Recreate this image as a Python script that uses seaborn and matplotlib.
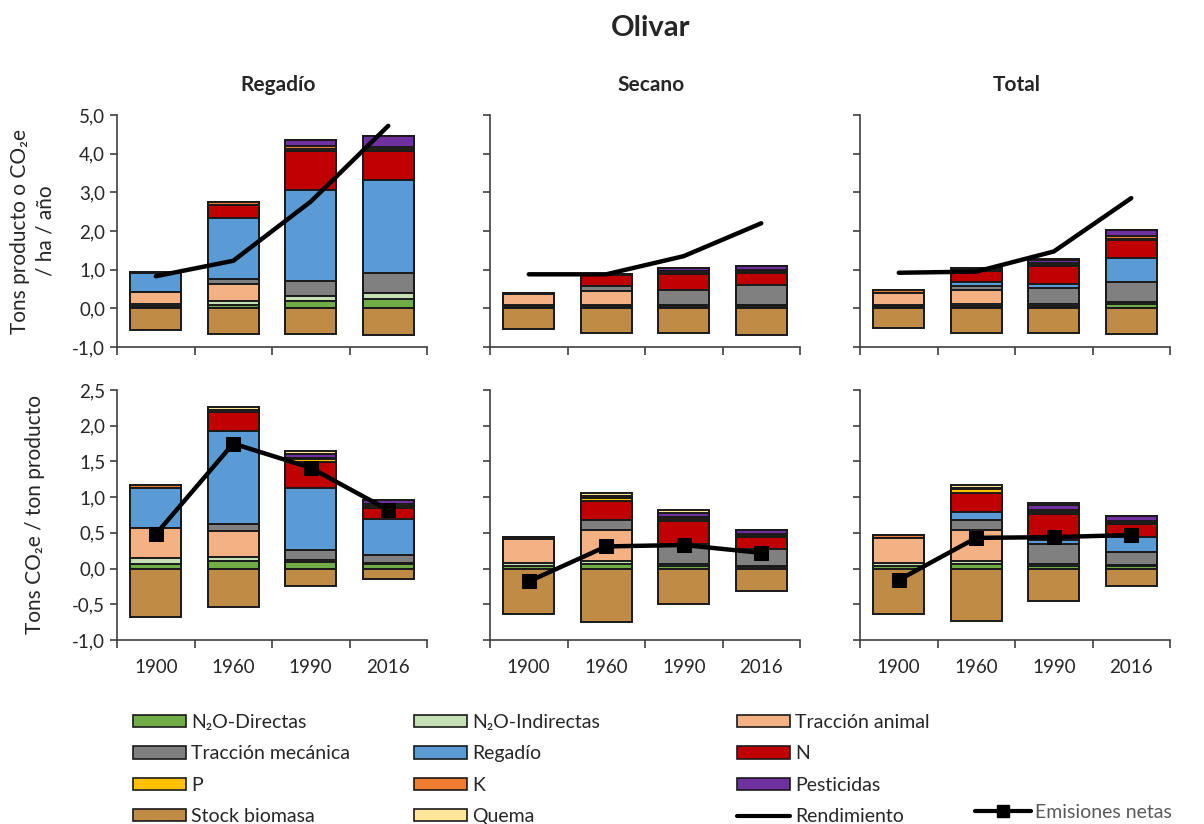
import numpy as np
import matplotlib
matplotlib.use("Agg")
import matplotlib.pyplot as plt
from matplotlib.ticker import FuncFormatter, MultipleLocator, FixedLocator
from matplotlib.patches import Patch
from matplotlib.lines import Line2D
import seaborn as sns

years = ["1900", "1960", "1990", "2016"]
panel_titles = ["Regadío", "Secano", "Total"]

# rows: producción Regadío, Secano, Total, then emisiones Regadío, Secano, Total
stock_biomasa = [[-0.55, -0.66, -0.66, -0.70],
                 [-0.54, -0.65, -0.65, -0.70],
                 [-0.52, -0.63, -0.64, -0.67],
                 [-0.68, -0.54, -0.24, -0.15],
                 [-0.63, -0.75, -0.49, -0.32],
                 [-0.63, -0.73, -0.46, -0.25]]
n2o_directas = [[0.05, 0.09, 0.18, 0.23],
                [0.05, 0.05, 0.05, 0.05],
                [0.05, 0.06, 0.07, 0.12],
                [0.06, 0.10, 0.09, 0.06],
                [0.03, 0.065, 0.03, 0.02],
                [0.04, 0.065, 0.035, 0.035]]
n2o_indirectas = [[0.05, 0.10, 0.13, 0.16],
                  [0.03, 0.03, 0.03, 0.03],
                  [0.04, 0.04, 0.04, 0.04],
                  [0.085, 0.065, 0.035, 0.025],
                  [0.055, 0.035, 0.03, 0.02],
                  [0.045, 0.04, 0.03, 0.02]]
traccion_animal = [[0.32, 0.45, 0, 0],
                   [0.29, 0.38, 0, 0],
                   [0.30, 0.38, 0, 0],
                   [0.42, 0.36, 0, 0],
                   [0.33, 0.44, 0, 0],
                   [0.34, 0.44, 0, 0]]
traccion_mecanica = [[0, 0.11, 0.39, 0.52],
                     [0, 0.13, 0.39, 0.52],
                     [0, 0.11, 0.41, 0.52],
                     [0, 0.10, 0.14, 0.10],
                     [0, 0.14, 0.29, 0.24],
                     [0, 0.14, 0.28, 0.18]]
regadio = [[0.49, 1.58, 2.37, 2.40],
           [0, 0, 0, 0],
           [0, 0.10, 0.11, 0.62],
           [0.56, 1.30, 0.87, 0.51],
           [0, 0, 0, 0],
           [0, 0.11, 0.05, 0.21]]
nitrogeno = [[0, 0.34, 1.00, 0.77],
             [0, 0.26, 0.42, 0.32],
             [0, 0.27, 0.46, 0.46],
             [0, 0.27, 0.36, 0.16],
             [0, 0.27, 0.32, 0.16],
             [0, 0.27, 0.37, 0.18]]
fosforo = [[0, 0, 0.05, 0.04],
           [0, 0, 0.02, 0.02],
           [0, 0.03, 0.03, 0.03],
           [0, 0.03, 0.035, 0.02],
           [0, 0.04, 0.03, 0.02],
           [0, 0.045, 0.03, 0.02]]
potasio = [[0.03, 0.07, 0.08, 0.04],
           [0.03, 0.03, 0.06, 0.04],
           [0.08, 0.06, 0.06, 0.07],
           [0.04, 0.0, 0.02, 0.03],
           [0.03, 0.02, 0.02, 0.02],
           [0.05, 0.02, 0.03, 0.02]]
pesticidas = [[0, 0, 0.16, 0.30],
              [0, 0, 0.07, 0.12],
              [0, 0, 0.07, 0.17],
              [0, 0, 0.05, 0.06],
              [0, 0, 0.06, 0.06],
              [0, 0, 0.06, 0.065]]
quema = [[0, 0, 0, 0],
         [0, 0, 0, 0],
         [0, 0, 0.03, 0],
         [0, 0.04, 0.04, 0],
         [0, 0.05, 0.045, 0],
         [0, 0.04, 0.04, 0]]

rendimiento = [[0.83, 1.23, 2.76, 4.72],
               [0.88, 0.88, 1.35, 2.20],
               [0.92, 0.95, 1.47, 2.85]]
emisiones_netas = [[0.48, 1.75, 1.41, 0.82],
                   [-0.18, 0.31, 0.33, 0.22],
                   [-0.16, 0.43, 0.44, 0.47]]

stack_names = ["N₂O-Directas", "N₂O-Indirectas", "Tracción animal", "Tracción mecánica",
               "Regadío", "N", "P", "K", "Pesticidas", "Quema"]
stack_values = [n2o_directas, n2o_indirectas, traccion_animal, traccion_mecanica,
                regadio, nitrogeno, fosforo, potasio, pesticidas, quema]
colors = {"N₂O-Directas": "#70AD47", "N₂O-Indirectas": "#C5E0B4",
          "Tracción animal": "#F4B183", "Tracción mecánica": "#808080",
          "Regadío": "#5B9BD5", "N": "#C00000", "P": "#FFC000", "K": "#ED7D31",
          "Pesticidas": "#7030A0", "Stock biomasa": "#BF8B45", "Quema": "#FFE699"}

sns.set_theme(style="ticks")
plt.rcParams["font.family"] = ["Lato", "DejaVu Sans"]
EDGE = "#1a1a1a"
SPINE = "#404040"
W, H = 1204, 824

fig = plt.figure(figsize=(W / 100, H / 100), dpi=100)
lefts = [117, 490, 860]
comma = FuncFormatter(lambda v, p: f"{v:.1f}".replace(".", ","))

for row in range(2):
    y0, y1 = (115, 347) if row == 0 else (390, 640)
    for col in range(3):
        i = row * 3 + col
        ax = fig.add_axes([lefts[col] / W, 1 - y1 / H, 310 / W, (y1 - y0) / H])
        layers = np.array([v[i] for v in stack_values], dtype=float)
        cum = layers.cumsum(axis=0)
        # overplot cumulative bars from the top down to get the stack
        for k in range(len(stack_names) - 1, -1, -1):
            sns.barplot(x=years, y=cum[k], color=colors[stack_names[k]], saturation=1,
                        width=0.66, edgecolor=EDGE, linewidth=1.4, ax=ax)
        sns.barplot(x=years, y=stock_biomasa[i], color=colors["Stock biomasa"], saturation=1,
                    width=0.66, edgecolor=EDGE, linewidth=1.4, ax=ax)
        if row == 0:
            sns.lineplot(x=[0, 1, 2, 3], y=rendimiento[col], color="black", lw=3.2, ax=ax)
            ax.set_ylim(-1, 5)
            ax.yaxis.set_major_locator(MultipleLocator(1))
        else:
            sns.lineplot(x=[0, 1, 2, 3], y=emisiones_netas[col], color="black", lw=3.2,
                         marker="s", markersize=10, markeredgecolor="black", ax=ax)
            ax.set_ylim(-1, 2.5)
            ax.yaxis.set_major_locator(MultipleLocator(0.5))
        ax.set_xlim(-0.5, 3.5)
        ax.set_xlabel("")
        ax.set_ylabel("")
        ax.xaxis.set_major_locator(FixedLocator([0, 1, 2, 3]))
        ax.xaxis.set_minor_locator(FixedLocator([-0.5, 0.5, 1.5, 2.5, 3.5]))
        ax.tick_params(axis="x", which="major", length=0, pad=14, labelsize=13.5)
        ax.tick_params(axis="x", which="minor", length=6, width=1.2, color=SPINE)
        ax.tick_params(axis="y", length=5, width=1.2, color=SPINE, labelsize=13.5)
        if row == 0:
            ax.set_xticklabels([])
        else:
            ax.set_xticklabels(years)
        if col == 0:
            ax.yaxis.set_major_formatter(comma)
        else:
            ax.set_yticklabels([])
        for s in ["top", "right"]:
            ax.spines[s].set_visible(False)
        for s in ["left", "bottom"]:
            ax.spines[s].set_color(SPINE)
            ax.spines[s].set_linewidth(1.2)

fig.text(651 / W, 1 - 28 / H, "Olivar", fontsize=21, fontweight="bold", ha="center", va="center")
for x, t in zip([278, 651, 1017], panel_titles):
    fig.text(x / W, 1 - 85 / H, t, fontsize=15, fontweight="bold", ha="center", va="center")

fig.text(33 / W, 1 - 231 / H, "Tons producto o CO₂e\n/ ha / año", rotation=90, fontsize=15,
         ha="center", va="center", multialignment="center", linespacing=1.35)
fig.text(35 / W, 1 - 515 / H, "Tons CO₂e / ton producto", rotation=90, fontsize=15,
         ha="center", va="center")

# legend: three columns, row-major as in the reference
legend_cols = [["N₂O-Directas", "Tracción mecánica", "P", "Stock biomasa"],
               ["N₂O-Indirectas", "Regadío", "K", "Quema"],
               ["Tracción animal", "N", "Pesticidas", "Rendimiento"]]
for x, names in zip([133, 414, 737], legend_cols):
    handles = []
    for n in names:
        if n == "Rendimiento":
            handles.append(Line2D([], [], color="black", lw=3))
        else:
            handles.append(Patch(facecolor=colors[n], edgecolor=EDGE, linewidth=1.2))
    fig.legend(handles, names, loc="upper left", bbox_to_anchor=(x / W, 1 - 714 / H),
               frameon=False, fontsize=14, handlelength=2.7, handleheight=0.6,
               handletextpad=0.3, labelspacing=0.74, borderpad=0, borderaxespad=0)

leg = fig.legend([Line2D([], [], color="black", lw=3, marker="s", markersize=9)],
                 ["Emisiones netas"], loc="upper left", bbox_to_anchor=(975 / W, 1 - 804 / H),
                 frameon=False, fontsize=14, handlelength=2.9, handletextpad=0.2,
                 borderpad=0, borderaxespad=0)
leg.get_texts()[0].set_color("#595959")

fig.savefig("out.png", dpi=100)
